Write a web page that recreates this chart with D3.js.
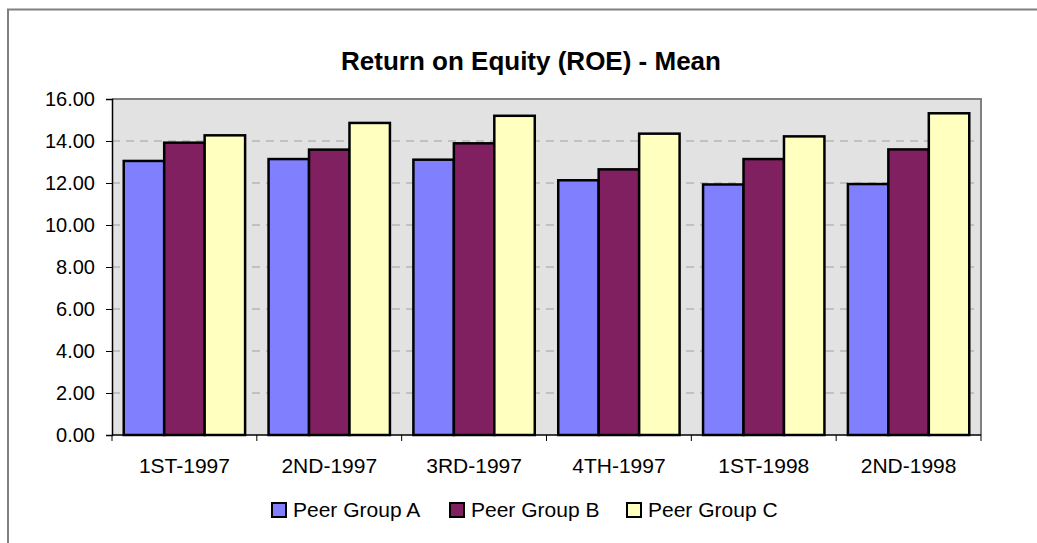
<!DOCTYPE html>
<html>
<head>
<meta charset="utf-8">
<script src="https://cdn.jsdelivr.net/npm/d3@7"></script>
<style>
  body { margin: 0; background: #fff; }
  svg { display: block; font-family: Arial, "Liberation Sans", sans-serif; }
</style>
</head>
<body>
<svg id="chart" width="1037" height="543"></svg>
<script>
const categories = ["1ST-1997", "2ND-1997", "3RD-1997", "4TH-1997", "1ST-1998", "2ND-1998"];
const seriesNames = ["Peer Group A", "Peer Group B", "Peer Group C"];
const peerA = [13.05, 13.14, 13.11, 12.13, 11.93, 11.95];
const peerB = [13.92, 13.59, 13.89, 12.65, 13.14, 13.60];
const peerC = [14.27, 14.86, 15.20, 14.35, 14.22, 15.32];
const yTicks = [0, 2, 4, 6, 8, 10, 12, 14, 16];
const colors = ["#8080ff", "#802060", "#ffffc0"];
const title = "Return on Equity (ROE) - Mean";

const series = [peerA, peerB, peerC];
const svg = d3.select("#chart");

// chart-area border (extends past right/bottom edges)
svg.append("path")
  .attr("d", "M8,543 L8,9.5 L1037,9.5")
  .attr("fill", "none").attr("stroke", "#808080").attr("stroke-width", 2);

const L = 112, R = 981, T = 99, B = 435;

const x0 = d3.scaleBand().domain(categories).range([L, R]).paddingInner(0).paddingOuter(0);
const x1 = d3.scaleBand().domain(seriesNames).range([0, x0.bandwidth()]).paddingInner(0).paddingOuter(0.29);
const y = d3.scaleLinear().domain([0, 16]).range([B, T]);

// plot background
svg.append("rect").attr("x", L).attr("y", T).attr("width", R - L).attr("height", B - T)
  .attr("fill", "#e2e2e2");

// gridlines
svg.append("g").selectAll("line").data(yTicks.filter(d => d > 0 && d < 16)).join("line")
  .attr("x1", L).attr("x2", R)
  .attr("y1", d => y(d)).attr("y2", d => y(d))
  .attr("stroke", "#a0a0a0").attr("stroke-width", 1).attr("stroke-dasharray", "8,6");

// plot border top/right
svg.append("path").attr("d", `M${L},${T} L${R},${T} L${R},${B}`)
  .attr("fill", "none").attr("stroke", "#808080").attr("stroke-width", 2);

// bars
const groups = svg.append("g").selectAll("g").data(categories).join("g")
  .attr("transform", d => `translate(${x0(d)},0)`);
groups.selectAll("rect")
  .data((c, i) => series.map((s, j) => ({ name: seriesNames[j], v: s[i], j })))
  .join("rect")
  .attr("x", d => x1(d.name))
  .attr("y", d => y(d.v))
  .attr("width", x1.bandwidth())
  .attr("height", d => y(0) - y(d.v))
  .attr("fill", d => colors[d.j])
  .attr("stroke", "#000").attr("stroke-width", 2.5);

// y axis
const yAxis = d3.axisLeft(y).tickValues(yTicks).tickFormat(d3.format(".2f"))
  .tickSize(6).tickPadding(11);
const gy = svg.append("g").attr("transform", `translate(${L},0)`).call(yAxis);
gy.select(".domain").attr("stroke", "#000").attr("stroke-width", 1.5);
gy.selectAll(".tick line").attr("stroke", "#000");
gy.selectAll("text").attr("font-size", "20px").attr("fill", "#000")
  .attr("font-family", "Arial, 'Liberation Sans', sans-serif");

// x axis (ticks between categories)
const xAxis = d3.axisBottom(x0).tickSize(0).tickPadding(0);
const gx = svg.append("g").attr("transform", `translate(0,${B})`).call(xAxis);
gx.select(".domain").remove();
gx.selectAll("text").attr("font-size", "21px").attr("fill", "#000")
  .attr("font-family", "Arial, 'Liberation Sans', sans-serif")
  .attr("dy", null).attr("y", 38);
svg.append("line").attr("x1", L).attr("x2", R).attr("y1", B).attr("y2", B)
  .attr("stroke", "#000").attr("stroke-width", 1.5);
const boundaries = categories.map(c => x0(c)).concat([x0(categories[categories.length - 1]) + x0.bandwidth()]);
svg.append("g").selectAll("line").data(boundaries).join("line")
  .attr("x1", d => d).attr("x2", d => d)
  .attr("y1", B).attr("y2", B + 6)
  .attr("stroke", "#000").attr("stroke-width", 1);

// title
svg.append("text").attr("x", 531).attr("y", 70).attr("text-anchor", "middle")
  .attr("font-size", "26px").attr("font-weight", "bold").attr("fill", "#000")
  .text(title);

// legend
const legendX = [272, 450, 627];
const lg = svg.append("g").selectAll("g").data(seriesNames).join("g")
  .attr("transform", (d, i) => `translate(${legendX[i]},503)`);
lg.append("rect").attr("x", 0).attr("y", 0).attr("width", 14).attr("height", 14)
  .attr("fill", (d, i) => colors[i]).attr("stroke", "#000").attr("stroke-width", 2);
lg.append("text").attr("x", 21).attr("y", 14).attr("font-size", "21px").attr("fill", "#000")
  .text(d => d);
</script>
</body>
</html>
